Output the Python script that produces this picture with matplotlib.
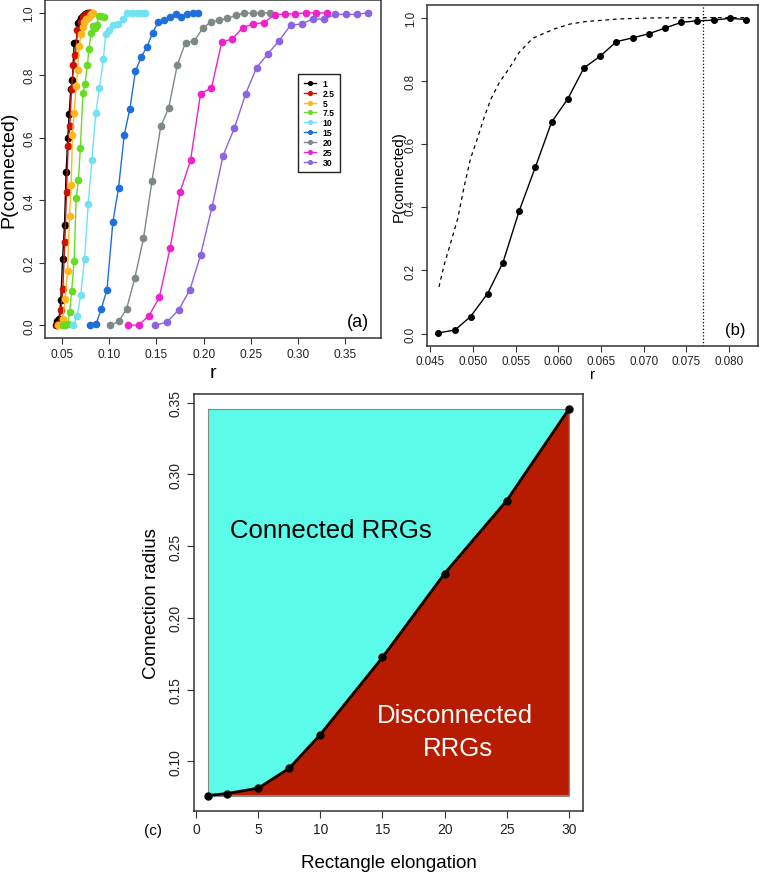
import matplotlib
matplotlib.use('Agg')
import matplotlib.pyplot as plt

plt.rcParams['font.family'] = ['Liberation Sans', 'DejaVu Sans']

# ---- panel (a): P(connected) vs r for each rectangle elongation ----
labels_a = ['1', '2.5', '5', '7.5', '10', '15', '20', '25', '30']
colors_a = ['#000000', '#CC1100', '#FFB71B', '#66DD22', '#72E2F2',
            '#1F6FDB', '#7E8888', '#EE22CC', '#8C63E0']

r_1 = [0.0432, 0.045, 0.0467, 0.0486, 0.0504, 0.0525, 0.0542, 0.056, 0.0574, 0.0592,
       0.0609, 0.0627, 0.0648, 0.0669, 0.0686, 0.0704, 0.072, 0.0743, 0.0764, 0.078]
p_1 = [0, 0.014, 0.022, 0.081, 0.212, 0.321, 0.491, 0.6, 0.675, 0.757,
       0.785, 0.903, 0.903, 0.965, 0.974, 0.984, 0.99, 0.995, 1.0, 1.0]
r_2_5 = [0.044, 0.046, 0.0486, 0.0507, 0.0528, 0.0546, 0.0563, 0.0581, 0.0599, 0.062,
         0.064, 0.0661, 0.0679, 0.07, 0.072, 0.0739, 0.0759, 0.078, 0.08, 0.0815]
p_2_5 = [0, 0.004, 0.048, 0.118, 0.267, 0.427, 0.574, 0.638, 0.757, 0.832,
         0.864, 0.944, 0.943, 0.97, 0.987, 0.991, 0.996, 1.0, 1.0, 1.0]
r_5 = [0.0458, 0.048, 0.0507, 0.0532, 0.0557, 0.0578, 0.0595, 0.0609, 0.0627, 0.0648,
       0.0665, 0.0679, 0.07, 0.0718, 0.0736, 0.0753, 0.0774, 0.0792, 0.0809, 0.0827]
p_5 = [0, 0, 0.02, 0.084, 0.175, 0.35, 0.448, 0.608, 0.68, 0.764,
       0.817, 0.893, 0.93, 0.955, 0.97, 0.978, 0.982, 0.99, 0.995, 1.0]
r_7_5 = [0.051, 0.0535, 0.056, 0.058, 0.06, 0.0627, 0.0648, 0.0672, 0.0693, 0.072,
         0.0743, 0.0767, 0.0785, 0.0806, 0.0827, 0.0845, 0.0868, 0.0889, 0.0913, 0.094]
p_7_5 = [0, 0.002, 0.006, 0.042, 0.11, 0.205, 0.406, 0.464, 0.568, 0.742,
         0.773, 0.833, 0.883, 0.933, 0.957, 0.95, 0.96, 0.99, 0.988, 0.985]
r_10 = [0.0618, 0.066, 0.0696, 0.0737, 0.0776, 0.0815, 0.0857, 0.0895, 0.0937, 0.096,
        0.1, 0.104, 0.109, 0.114, 0.119, 0.1243, 0.1292, 0.1337, 0.138]
p_10 = [0.001, 0.031, 0.097, 0.211, 0.387, 0.528, 0.68, 0.76, 0.85, 0.93,
        0.944, 0.96, 0.963, 0.98, 1.0, 1.0, 1.0, 1.0, 1.0]
r_15 = [0.0792, 0.0859, 0.0915, 0.0975, 0.1038, 0.1098, 0.1158, 0.1218, 0.1277, 0.134,
        0.14, 0.146, 0.152, 0.158, 0.1643, 0.1703, 0.1763, 0.1823, 0.1882, 0.1942]
p_15 = [0, 0.004, 0.054, 0.114, 0.332, 0.44, 0.609, 0.693, 0.813, 0.859,
        0.891, 0.936, 0.97, 0.975, 0.986, 0.995, 0.985, 0.996, 1.0, 1.0]
r_20 = [0.1006, 0.1098, 0.1182, 0.127, 0.1362, 0.1453, 0.1545, 0.1629, 0.172, 0.1808,
        0.19, 0.1988, 0.2076, 0.2164, 0.2252, 0.2343, 0.2431, 0.2522, 0.261, 0.2698]
p_20 = [0, 0.013, 0.052, 0.152, 0.278, 0.463, 0.636, 0.695, 0.832, 0.904,
        0.909, 0.949, 0.97, 0.975, 0.981, 0.991, 0.998, 0.998, 0.998, 1.0]
r_25 = [0.1193, 0.1312, 0.1418, 0.153, 0.1643, 0.1752, 0.1861, 0.1967, 0.2083, 0.2192,
        0.2304, 0.2413, 0.2526, 0.2639, 0.2751, 0.286, 0.2973, 0.3082, 0.3194, 0.3303]
p_25 = [0, 0.002, 0.03, 0.09, 0.246, 0.428, 0.528, 0.741, 0.759, 0.906,
        0.915, 0.952, 0.963, 0.968, 0.993, 0.995, 0.996, 0.999, 0.999, 0.998]
r_30 = [0.1488, 0.1615, 0.1735, 0.1854, 0.1967, 0.209, 0.2206, 0.2325, 0.2445, 0.2561,
        0.2684, 0.28, 0.2923, 0.304, 0.3155, 0.3275, 0.3394, 0.351, 0.363, 0.3746]
p_30 = [0, 0.012, 0.05, 0.114, 0.225, 0.38, 0.543, 0.63, 0.74, 0.824,
        0.869, 0.91, 0.96, 0.963, 0.98, 0.978, 0.994, 0.994, 0.994, 1.0]

r_all = [r_1, r_2_5, r_5, r_7_5, r_10, r_15, r_20, r_25, r_30]
p_all = [p_1, p_2_5, p_5, p_7_5, p_10, p_15, p_20, p_25, p_30]

# ---- panel (b): elongation 1, simulation vs dashed curve ----
r_b = [0.0459, 0.0479, 0.0497, 0.0517, 0.0535, 0.0554, 0.0573, 0.0592, 0.0611, 0.063,
       0.0649, 0.0668, 0.0687, 0.0706, 0.0725, 0.0744, 0.0763, 0.0782, 0.0801, 0.082]
p_b = [0.002, 0.012, 0.054, 0.127, 0.225, 0.388, 0.527, 0.669, 0.743, 0.841,
       0.878, 0.924, 0.936, 0.949, 0.967, 0.985, 0.99, 0.992, 0.998, 0.994]
r_dash = [0.046, 0.0466, 0.0474, 0.0482, 0.0489, 0.0497, 0.0505, 0.0513, 0.0521, 0.0531,
          0.0542, 0.0554, 0.057, 0.0595, 0.0614, 0.0633, 0.0672, 0.071, 0.076, 0.082]
p_dash = [0.148, 0.217, 0.29, 0.364, 0.459, 0.554, 0.617, 0.685, 0.743, 0.796,
          0.838, 0.89, 0.935, 0.964, 0.98, 0.988, 0.996, 0.999, 1.0, 1.0]
r_vline = 0.0769

# ---- panel (c): connection radius vs elongation ----
elong = [1, 2.5, 5, 7.5, 10, 15, 20, 25, 30]
radius = [0.0761, 0.0775, 0.0812, 0.0951, 0.1186, 0.1724, 0.2309, 0.2818, 0.3456]

fig = plt.figure(figsize=(7.68, 8.78), dpi=100)
W, H = 768.0, 878.0


def px_axes(l, t, r, b):
    return fig.add_axes([l / W, 1 - b / H, (r - l) / W, (b - t) / H])


def r_style(ax, fs):
    for s in ax.spines.values():
        s.set_color('#333333')
        s.set_linewidth(1.1)
    ax.tick_params(direction='out', length=4.5, width=0.8, colors='#333333',
                   labelsize=fs, labelcolor='#222222', pad=2.5)
    for lab in ax.get_yticklabels():
        lab.set_rotation(90)
        lab.set_va('center')


# (a)
ax1 = px_axes(45, 1, 381, 339)
for r, p, c, lab in zip(r_all, p_all, colors_a, labels_a):
    ax1.plot(r, p, '-o', color=c, lw=1.0, ms=4.5, label=lab)
ax1.set_xlim(0.0318, 0.388)
ax1.set_ylim(-0.04, 1.04)
ax1.set_xticks([0.05, 0.10, 0.15, 0.20, 0.25, 0.30, 0.35])
ax1.set_xticklabels(['0.05', '0.10', '0.15', '0.20', '0.25', '0.30', '0.35'])
ax1.set_yticks([0.0, 0.2, 0.4, 0.6, 0.8, 1.0])
ax1.set_yticklabels(['0.0', '0.2', '0.4', '0.6', '0.8', '1.0'])
r_style(ax1, 8.6)
ax1.text((9.3 - 45) / 336, 0.5, 'P(connected)', rotation=90, ha='center', va='center',
         fontsize=14, transform=ax1.transAxes)
ax1.text(0.5, (339 - 373) / 338, 'r', ha='center', va='center', fontsize=14,
         transform=ax1.transAxes)
ax1.text(0.93, 0.05, '(a)', ha='center', va='center', fontsize=13, transform=ax1.transAxes)
leg = ax1.legend(loc='upper left', bbox_to_anchor=(0.754, 0.782), borderaxespad=0,
                 prop={'weight': 'bold', 'size': 6.2}, handlelength=1.4, handletextpad=0.8,
                 labelspacing=0.1, borderpad=0.6, fancybox=False, framealpha=1,
                 edgecolor='#222222', markerscale=0.6)
leg.get_frame().set_linewidth(1.0)

# (b)
ax2 = px_axes(426.7, 6, 758.3, 347.3)
ax2.plot(r_dash, p_dash, '--', color='black', lw=0.9, dashes=(3, 3))
ax2.plot(r_b, p_b, '-o', color='black', lw=1.0, ms=4.0)
ax2.axvline(r_vline, color='black', lw=0.9, ls=':')
ax2.set_xlim(0.04456, 0.08344)
ax2.set_ylim(-0.04, 1.04)
ax2.set_xticks([0.045, 0.050, 0.055, 0.060, 0.065, 0.070, 0.075, 0.080])
ax2.set_xticklabels(['0.045', '0.050', '0.055', '0.060', '0.065', '0.070', '0.075', '0.080'])
ax2.set_yticks([0.0, 0.2, 0.4, 0.6, 0.8, 1.0])
ax2.set_yticklabels(['0.0', '0.2', '0.4', '0.6', '0.8', '1.0'])
r_style(ax2, 8.4)
ax2.tick_params(axis='x', pad=1.5)
ax2.text((398.3 - 426.7) / 331.6, 0.5, 'P(connected)', rotation=90, ha='center',
         va='center', fontsize=11, transform=ax2.transAxes)
ax2.text(0.5, (347.3 - 375) / 341.3, 'r', ha='center', va='center', fontsize=11,
         transform=ax2.transAxes)
ax2.text(0.93, 0.05, '(b)', ha='center', va='center', fontsize=12, transform=ax2.transAxes)

# (c)
ax3 = px_axes(194, 394.7, 583.3, 812)
lo, hi = min(radius), max(radius)
ax3.fill([elong[0], elong[-1], elong[-1], elong[0]], [lo, lo, hi, hi],
         facecolor='#5AFBE8', edgecolor='#888888', lw=0.8, zorder=1)
ax3.fill(elong + [elong[-1], elong[0]], radius + [lo, lo], facecolor='#B71C00',
         edgecolor='none', zorder=2)
ax3.plot(elong, radius, '-o', color='black', lw=2.0, ms=5.0, zorder=3)
ax3.set_xlim(-0.16, 31.16)
ax3.set_ylim(0.0653, 0.3563)
ax3.set_xticks([0, 5, 10, 15, 20, 25, 30])
ax3.set_yticks([0.10, 0.15, 0.20, 0.25, 0.30, 0.35])
ax3.set_yticklabels(['0.10', '0.15', '0.20', '0.25', '0.30', '0.35'])
r_style(ax3, 10)
ax3.tick_params(length=5, pad=3)
ax3.text(10.86, 0.2615, 'Connected RRGs', ha='center', va='center', fontsize=18.5)
ax3.text(20.8, 0.1325, 'Disconnected', ha='center', va='center', fontsize=18.5,
         color='white')
ax3.text(21.1, 0.1093, 'RRGs', ha='center', va='center', fontsize=18.5, color='white')
ax3.text((151.7 - 194) / 389.3, 0.5, 'Connection radius', rotation=90, ha='center',
         va='center', fontsize=13.5, transform=ax3.transAxes)
ax3.text(0.5, (812 - 864) / 417.3, 'Rectangle elongation', ha='center', va='center',
         fontsize=13.5, transform=ax3.transAxes)
ax3.text((153.3 - 194) / 389.3, (812 - 830.7) / 417.3, '(c)', ha='center', va='center',
         fontsize=11, transform=ax3.transAxes)

fig.savefig('out.png', dpi=100)
